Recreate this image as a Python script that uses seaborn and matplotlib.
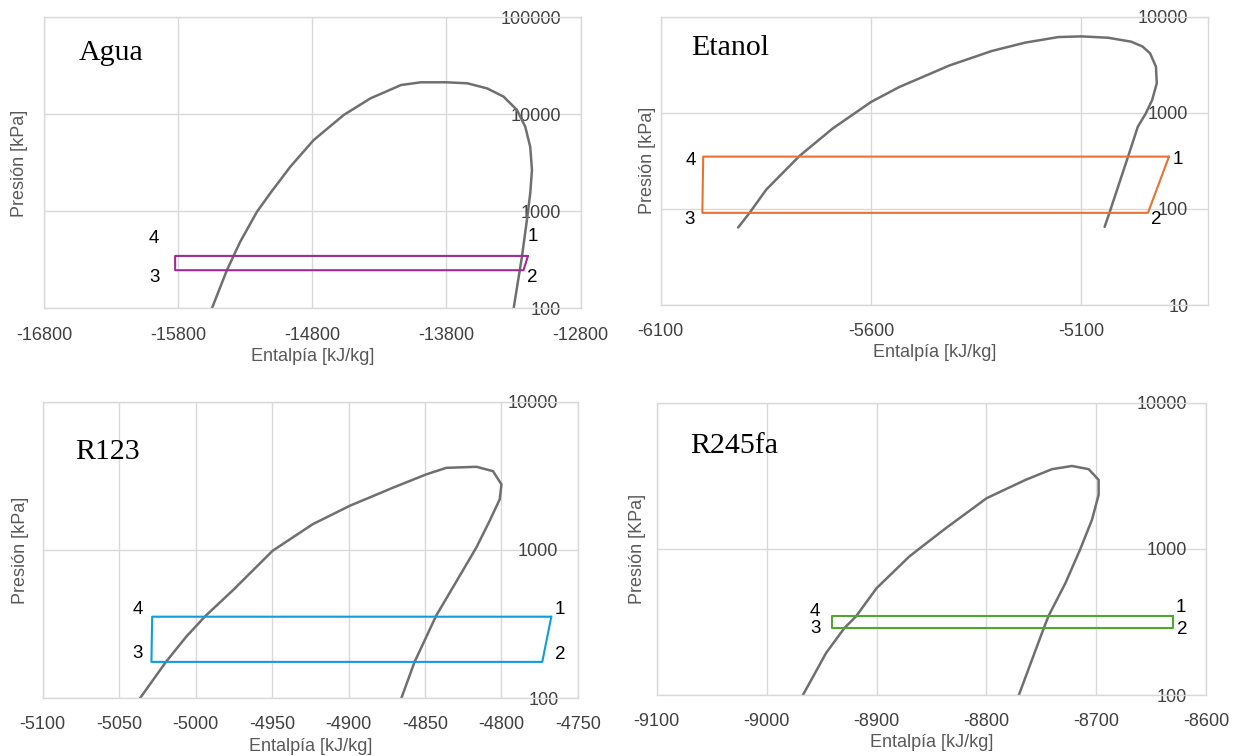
import matplotlib
matplotlib.use("Agg")
import seaborn as sns
import matplotlib.pyplot as plt

# Saturation domes (enthalpy kJ/kg, pressure kPa)
agua_h = [-15550, -15438, -15339, -15214, -15115, -14965, -14791, -14567, -14367, -14139,
          -13990, -13800, -13644, -13496, -13373, -13274, -13212, -13175, -13162, -13175,
          -13200, -13237, -13269, -13299]
agua_p = [100, 248, 486, 990, 1535, 2885, 5430, 9840, 14620, 20050,
          21400, 21400, 20900, 18500, 15200, 11100, 7450, 4630, 2670, 1535,
          813, 340, 181, 100]

etanol_h = [-5916, -5888, -5849, -5770, -5691, -5600, -5533, -5414, -5313, -5234, -5155,
            -5100, -5037, -4982, -4955, -4937, -4923, -4921, -4932, -4947, -4966, -4989,
            -5033, -5045]
etanol_p = [64, 92, 159, 356, 688, 1297, 1855, 3105, 4400, 5370, 6140,
            6240, 6040, 5500, 4900, 4160, 3020, 2030, 1360, 986, 718, 353,
            92.5, 65]

r123_h = [-5036.4, -5019.4, -5006.3, -4993.7, -4975.8, -4949.6, -4923.4, -4899.4, -4871,
          -4849.2, -4836.1, -4816.4, -4805.5, -4800, -4801.1, -4807.7, -4816.4, -4831.7,
          -4842.6, -4856.8, -4865.5]
r123_p = [100, 176, 259, 358, 533, 989, 1493, 1982, 2630,
          3235, 3580, 3640, 3400, 2770, 2200, 1574, 1040, 561,
          362, 176, 100]

r245fa_h = [-8967, -8945.9, -8929.3, -8918.7, -8900, -8870.3, -8861.3, -8837, -8799.8,
            -8764.4, -8740.3, -8722.1, -8707, -8697.9, -8697.9, -8704, -8714.5, -8728.1,
            -8743.3, -8747.8, -8770.5]
r245fa_p = [100, 194, 287, 345, 538, 885, 1000, 1384, 2222,
            2965, 3510, 3690, 3510, 2965, 2340, 1578, 1000, 583,
            350, 287, 100]

# Cycle states 1, 2, 3, 4 (closed back to 1)
estados = ["1", "2", "3", "4"]
agua_ciclo_h = [-13192, -13225, -15824, -15824, -13192]
agua_ciclo_p = [348, 248, 248, 348, 348]
etanol_ciclo_h = [-4892, -4942, -6001, -5999, -4892]
etanol_ciclo_p = [350, 91, 91, 350, 350]
r123_ciclo_h = [-4767.4, -4773.3, -5028.9, -5028.4, -4767.4]
r123_ciclo_p = [355, 176, 176, 355, 355]
r245fa_ciclo_h = [-8630, -8630, -8940.5, -8940.5, -8630]
r245fa_ciclo_p = [349, 287, 287, 349, 349]

# Axis ticks
agua_xticks = [-16800, -15800, -14800, -13800, -12800]
agua_yticks = [100, 1000, 10000, 100000]
etanol_xticks = [-6100, -5600, -5100]
etanol_yticks = [10, 100, 1000, 10000]
r123_xticks = [-5100, -5050, -5000, -4950, -4900, -4850, -4800, -4750]
r123_yticks = [100, 1000, 10000]
r245fa_xticks = [-9100, -9000, -8900, -8800, -8700, -8600]
r245fa_yticks = [100, 1000, 10000]

sns.set_theme(style="whitegrid")
plt.rcParams['font.family'] = ['Liberation Sans', 'DejaVu Sans']

fig = plt.figure(figsize=(12.41, 7.56), dpi=100)
W, H = 1241, 756


def add_axes_px(left, right, top, bottom):
    return fig.add_axes([left / W, (H - bottom) / H, (right - left) / W, (bottom - top) / H])


paneles = [
    dict(nombre="Agua", h=agua_h, p=agua_p, ch=agua_ciclo_h, cp=agua_ciclo_p, color="#A02B93",
         xlim=(-16800, -12800), ylim=(100, 100000), xt=agua_xticks, yt=agua_yticks,
         box=(44.3, 580.5, 17.3, 308.5), title_pos=(0.065, 0.877), ylabel="Presión [kPa]", ypad=12,
         offs=[(5, 19), (9, -7.3), (-21, -7), (-21, 17.7)]),
    dict(nombre="Etanol", h=etanol_h, p=etanol_p, ch=etanol_ciclo_h, cp=etanol_ciclo_p, color="#E97132",
         xlim=(-6100, -4800), ylim=(10, 10000), xt=etanol_xticks, yt=etanol_yticks,
         box=(660.7, 1207.7, 16.7, 305), title_pos=(0.055, 0.891), ylabel="Presión [kPa]", ypad=3.5,
         offs=[(9, -3.3), (8, -6.7), (-13, -6.7), (-12.6, -4.3)]),
    dict(nombre="R123", h=r123_h, p=r123_p, ch=r123_ciclo_h, cp=r123_ciclo_p, color="#0F9ED5",
         xlim=(-5100, -4750), ylim=(100, 10000), xt=r123_xticks, yt=r123_yticks,
         box=(42.7, 577.9, 401.7, 698.3), title_pos=(0.060, 0.830), ylabel="Presión [kPa]", ypad=10,
         offs=[(9, 7.3), (18, 7.7), (-14, 8.4), (-14, 7.3)]),
    dict(nombre="R245fa", h=r245fa_h, p=r245fa_p, ch=r245fa_ciclo_h, cp=r245fa_ciclo_p, color="#4EA72E",
         xlim=(-9100, -8600), ylim=(100, 10000), xt=r245fa_xticks, yt=r245fa_yticks,
         box=(656.8, 1206.2, 402.7, 695), title_pos=(0.060, 0.852), ylabel="Presión [KPa]", ypad=8,
         offs=[(8, 7.7), (9, -1.7), (-17, -0.5), (-17, 4.5)]),
]

for pn in paneles:
    ax = add_axes_px(*pn["box"])

    # saturation dome
    sns.lineplot(x=pn["h"], y=pn["p"], sort=False, estimator=None, ax=ax,
                 color="#6F6F6F", linewidth=1.8)
    # cycle
    sns.lineplot(x=pn["ch"], y=pn["cp"], sort=False, estimator=None, ax=ax,
                 color=pn["color"], linewidth=1.5)

    ax.set_yscale("log")
    ax.set_xlim(*pn["xlim"])
    ax.set_ylim(*pn["ylim"])
    ax.set_xticks(pn["xt"], labels=[str(t) for t in pn["xt"]])
    ax.set_yticks(pn["yt"], labels=[str(t) for t in pn["yt"]])
    ax.minorticks_off()

    ax.grid(True, color="#D9D9D9", linewidth=1)
    for s in ax.spines.values():
        s.set_color("#D9D9D9")
        s.set_linewidth(1)

    ax.tick_params(axis="x", length=0, pad=13, labelsize=13, labelcolor="#404040")
    ax.tick_params(axis="y", left=False, labelleft=False, right=False, labelright=True,
                   length=0, pad=-14, labelsize=13, labelcolor="#404040")
    for lab in ax.get_yticklabels():
        lab.set_horizontalalignment("right")

    ax.set_xlabel("Entalpía [kJ/kg]", fontsize=13, color="#595959", labelpad=3)
    ax.set_ylabel(pn["ylabel"], fontsize=13, color="#595959", labelpad=pn["ypad"])

    ax.text(pn["title_pos"][0], pn["title_pos"][1], pn["nombre"], transform=ax.transAxes,
            fontsize=21.5, family="Liberation Serif", ha="left", va="center", color="black")

    for i, est in enumerate(estados):
        ax.annotate(est, xy=(pn["ch"][i], pn["cp"][i]), xytext=pn["offs"][i],
                    textcoords="offset pixels", ha="center", va="center",
                    fontsize=13.5, color="black")

fig.savefig("out.png", dpi=100)
